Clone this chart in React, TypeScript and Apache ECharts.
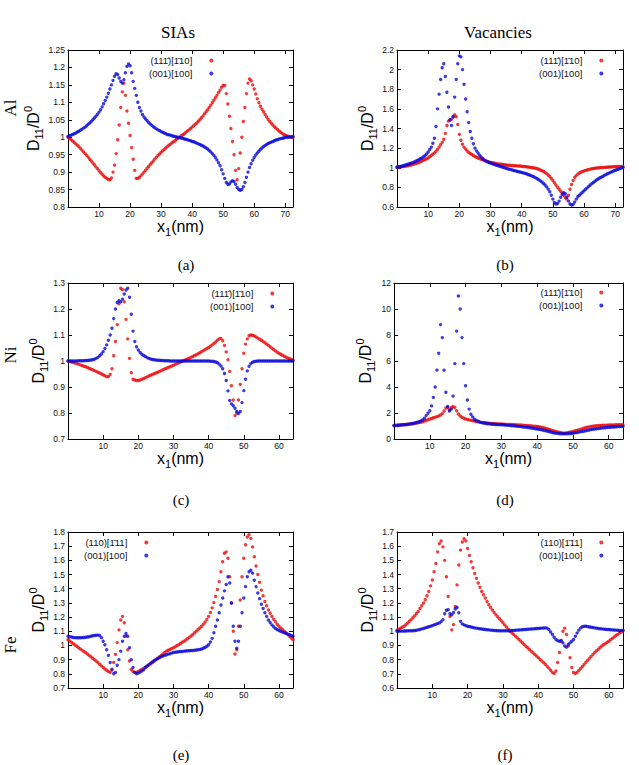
import React, { useEffect, useRef } from "react";
import * as echarts from "echarts";

// sampling step of every series along x1 (nm)
const X_STEP = 0.5;

const NAME_111 = "(11" + "1\u0304" + ")[" + "1\u0304" + "10]";
const NAME_FE110 = "(110)[" + "1\u0304" + "11]";
const NAME_001 = "(001)[100]";

const COLUMN_TITLES = ["SIAs", "Vacancies"];
const ROW_LABELS = ["Al", "Ni", "Fe"];
const CAPTIONS = ["(a)", "(b)", "(c)", "(d)", "(e)", "(f)"];

// ---------- Al, SIAs (x1 = 0 .. 72.5) ----------
const AL_SIA_RED = [
  1.000, 0.996, 0.993, 0.989, 0.985, 0.981, 0.977, 0.973, 0.968, 0.963,
  0.958, 0.953, 0.948, 0.943, 0.937, 0.932, 0.926, 0.921, 0.915, 0.910,
  0.904, 0.899, 0.894, 0.889, 0.885, 0.882, 0.879, 0.878, 0.883, 0.900,
  0.920, 0.953, 0.993, 1.035, 1.085, 1.130, 1.155, 1.120, 1.075, 1.040,
  1.005, 0.970, 0.937, 0.905, 0.882, 0.882, 0.885, 0.890, 0.895, 0.900,
  0.905, 0.911, 0.916, 0.922, 0.927, 0.932, 0.938, 0.943, 0.948, 0.952,
  0.957, 0.961, 0.965, 0.969, 0.973, 0.977, 0.980, 0.984, 0.987, 0.990,
  0.994, 0.997, 1.000, 1.004, 1.007, 1.010, 1.014, 1.018, 1.021, 1.025,
  1.029, 1.033, 1.037, 1.041, 1.046, 1.051, 1.056, 1.061, 1.067, 1.073,
  1.079, 1.085, 1.092, 1.099, 1.106, 1.113, 1.120, 1.128, 1.135, 1.143,
  1.148, 1.148, 1.125, 1.095, 1.060, 1.025, 0.988, 0.950, 0.905, 0.878,
  0.910, 0.955, 1.000, 1.045, 1.085, 1.125, 1.155, 1.167, 1.162, 1.150,
  1.138, 1.124, 1.110, 1.099, 1.089, 1.080, 1.073, 1.065, 1.058, 1.051,
  1.045, 1.040, 1.035, 1.030, 1.026, 1.022, 1.018, 1.014, 1.011, 1.008,
  1.006, 1.004, 1.002, 1.001, 1.000, 0.999,
];
const AL_SIA_BLUE = [
  1.002, 1.004, 1.006, 1.008, 1.010, 1.012, 1.015, 1.017, 1.020, 1.023,
  1.026, 1.029, 1.033, 1.037, 1.041, 1.045, 1.050, 1.055, 1.060, 1.066,
  1.072, 1.079, 1.087, 1.096, 1.105, 1.115, 1.126, 1.138, 1.150, 1.163,
  1.175, 1.182, 1.180, 1.170, 1.160, 1.155, 1.165, 1.185, 1.203, 1.210,
  1.205, 1.185, 1.160, 1.140, 1.120, 1.100, 1.085, 1.075, 1.065, 1.058,
  1.052, 1.047, 1.042, 1.038, 1.034, 1.030, 1.027, 1.024, 1.021, 1.019,
  1.016, 1.014, 1.012, 1.010, 1.008, 1.007, 1.006, 1.004, 1.003, 1.002,
  1.001, 1.000, 0.999, 0.998, 0.997, 0.995, 0.994, 0.993, 0.991, 0.990,
  0.988, 0.987, 0.985, 0.983, 0.981, 0.979, 0.977, 0.975, 0.972, 0.969,
  0.966, 0.962, 0.958, 0.953, 0.948, 0.942, 0.935, 0.927, 0.918, 0.907,
  0.895, 0.882, 0.870, 0.865, 0.866, 0.872, 0.875, 0.873, 0.865, 0.856,
  0.850, 0.848, 0.850, 0.858, 0.870, 0.885, 0.900, 0.913, 0.924, 0.934,
  0.942, 0.949, 0.955, 0.960, 0.965, 0.969, 0.973, 0.976, 0.979, 0.982,
  0.984, 0.986, 0.988, 0.990, 0.992, 0.993, 0.995, 0.996, 0.997, 0.998,
  0.999, 1.000, 1.000, 1.001, 1.001, 1.002,
];

// ---------- Al, vacancies (x1 = 0 .. 72.5) ----------
const AL_VAC_RED = [
  1.005, 1.006, 1.008, 1.010, 1.012, 1.014, 1.017, 1.020, 1.024, 1.028,
  1.032, 1.037, 1.042, 1.048, 1.054, 1.061, 1.068, 1.076, 1.084, 1.092,
  1.100, 1.112, 1.125, 1.137, 1.150, 1.167, 1.185, 1.210, 1.235, 1.260,
  1.290, 1.350, 1.430, 1.475, 1.485, 1.495, 1.520, 1.540, 1.520, 1.440,
  1.340, 1.280, 1.240, 1.210, 1.190, 1.170, 1.155, 1.145, 1.135, 1.125,
  1.115, 1.107, 1.100, 1.093, 1.087, 1.081, 1.075, 1.069, 1.064, 1.059,
  1.055, 1.051, 1.048, 1.045, 1.042, 1.039, 1.037, 1.035, 1.033, 1.030,
  1.028, 1.026, 1.025, 1.023, 1.022, 1.021, 1.020, 1.019, 1.018, 1.017,
  1.015, 1.013, 1.012, 1.010, 1.008, 1.006, 1.003, 1.000, 0.997, 0.994,
  0.990, 0.984, 0.978, 0.970, 0.962, 0.951, 0.940, 0.926, 0.910, 0.891,
  0.870, 0.848, 0.825, 0.802, 0.780, 0.760, 0.742, 0.720, 0.695, 0.680,
  0.720, 0.780, 0.830, 0.870, 0.900, 0.920, 0.935, 0.946, 0.955, 0.962,
  0.968, 0.973, 0.978, 0.982, 0.986, 0.989, 0.992, 0.995, 0.997, 0.999,
  1.000, 1.002, 1.003, 1.004, 1.005, 1.006, 1.007, 1.008, 1.009, 1.010,
  1.011, 1.012, 1.012, 1.013, 1.013, 1.014,
];
const AL_VAC_BLUE = [
  1.005, 1.008, 1.012, 1.016, 1.020, 1.025, 1.030, 1.035, 1.040, 1.046,
  1.052, 1.059, 1.066, 1.074, 1.082, 1.091, 1.100, 1.112, 1.125, 1.140,
  1.160, 1.185, 1.210, 1.250, 1.300, 1.420, 1.600, 1.750, 1.900, 2.020,
  2.060, 1.930, 1.770, 1.620, 1.490, 1.430, 1.520, 1.720, 1.900, 2.060,
  2.140, 2.130, 2.000, 1.850, 1.700, 1.570, 1.460, 1.370, 1.300, 1.245,
  1.200, 1.172, 1.150, 1.128, 1.110, 1.094, 1.080, 1.070, 1.062, 1.055,
  1.048, 1.042, 1.036, 1.030, 1.025, 1.020, 1.015, 1.010, 1.005, 1.000,
  0.995, 0.990, 0.985, 0.981, 0.977, 0.972, 0.968, 0.964, 0.960, 0.956,
  0.952, 0.948, 0.943, 0.938, 0.932, 0.926, 0.920, 0.913, 0.905, 0.897,
  0.888, 0.878, 0.866, 0.854, 0.840, 0.824, 0.805, 0.782, 0.755, 0.720,
  0.680, 0.645, 0.630, 0.635, 0.660, 0.700, 0.730, 0.745, 0.735, 0.700,
  0.660, 0.630, 0.620, 0.625, 0.650, 0.680, 0.705, 0.720, 0.735, 0.750,
  0.765, 0.780, 0.795, 0.810, 0.825, 0.838, 0.850, 0.863, 0.875, 0.885,
  0.895, 0.904, 0.912, 0.921, 0.930, 0.938, 0.945, 0.953, 0.960, 0.966,
  0.973, 0.979, 0.985, 0.991, 0.997, 1.003,
];

// ---------- Ni, SIAs (x1 = 0 .. 64) ----------
const NI_SIA_RED = [
  1.000, 0.998, 0.996, 0.994, 0.992, 0.990, 0.988, 0.985, 0.983, 0.980,
  0.978, 0.975, 0.972, 0.969, 0.966, 0.963, 0.960, 0.957, 0.954, 0.950,
  0.947, 0.943, 0.940, 0.940, 0.948, 0.970, 1.020, 1.075, 1.140, 1.220,
  1.280, 1.275, 1.228, 1.160, 1.085, 1.010, 0.955, 0.930, 0.927, 0.925,
  0.925, 0.927, 0.930, 0.933, 0.936, 0.939, 0.942, 0.945, 0.948, 0.951,
  0.954, 0.957, 0.960, 0.963, 0.966, 0.969, 0.972, 0.975, 0.978, 0.981,
  0.984, 0.987, 0.990, 0.993, 0.996, 0.999, 1.002, 1.005, 1.008, 1.011,
  1.014, 1.017, 1.021, 1.024, 1.028, 1.032, 1.036, 1.040, 1.044, 1.048,
  1.052, 1.057, 1.062, 1.067, 1.073, 1.080, 1.085, 1.087, 1.078, 1.060,
  1.035, 1.005, 0.960, 0.905, 0.850, 0.790, 0.800, 0.850, 0.910, 0.970,
  1.030, 1.065, 1.085, 1.097, 1.100, 1.099, 1.096, 1.092, 1.088, 1.084,
  1.080, 1.075, 1.070, 1.065, 1.060, 1.055, 1.049, 1.044, 1.039, 1.034,
  1.030, 1.026, 1.022, 1.018, 1.015, 1.012, 1.009, 1.006, 1.004,
];
const NI_SIA_BLUE = [
  1.000, 1.000, 1.000, 1.000, 1.000, 1.000, 1.001, 1.001, 1.001, 1.001,
  1.002, 1.002, 1.003, 1.004, 1.005, 1.007, 1.010, 1.014, 1.020, 1.027,
  1.036, 1.048, 1.062, 1.080, 1.100, 1.126, 1.163, 1.200, 1.225, 1.232,
  1.228, 1.238, 1.258, 1.273, 1.280, 1.245, 1.180, 1.115, 1.075, 1.055,
  1.042, 1.033, 1.026, 1.021, 1.017, 1.013, 1.010, 1.008, 1.006, 1.005,
  1.004, 1.003, 1.003, 1.002, 1.002, 1.001, 1.001, 1.001, 1.000, 1.000,
  1.000, 1.000, 1.000, 1.000, 1.000, 1.000, 1.000, 1.000, 1.000, 1.000,
  1.000, 1.000, 1.000, 1.000, 1.000, 1.000, 1.000, 1.000, 1.000, 1.000,
  1.000, 0.999, 0.999, 0.998, 0.996, 0.993, 0.988, 0.981, 0.970, 0.952,
  0.925, 0.885, 0.848, 0.835, 0.828, 0.818, 0.806, 0.798, 0.806, 0.840,
  0.886, 0.930, 0.962, 0.980, 0.990, 0.995, 0.998, 0.999, 1.000, 1.000,
  1.000, 1.000, 1.000, 1.000, 1.000, 1.000, 1.000, 1.000, 1.000, 1.000,
  1.000, 1.000, 1.000, 1.000, 1.000, 1.000, 1.000, 1.000, 1.000,
];

// ---------- Ni, vacancies (x1 = 0 .. 64) ----------
const NI_VAC_RED = [
  1.05, 1.06, 1.07, 1.08, 1.09, 1.10, 1.11, 1.12, 1.13, 1.145,
  1.16, 1.18, 1.20, 1.23, 1.26, 1.29, 1.33, 1.38, 1.43, 1.48,
  1.54, 1.58, 1.63, 1.67, 1.72, 1.77, 1.84, 1.95, 2.15, 2.38,
  2.43, 2.25, 2.40, 2.50, 2.42, 2.18, 1.92, 1.77, 1.67, 1.60,
  1.54, 1.50, 1.47, 1.44, 1.41, 1.38, 1.35, 1.33, 1.30, 1.28,
  1.26, 1.245, 1.23, 1.215, 1.20, 1.19, 1.18, 1.17, 1.16, 1.155,
  1.15, 1.14, 1.13, 1.125, 1.12, 1.115, 1.11, 1.10, 1.09, 1.085,
  1.08, 1.07, 1.06, 1.05, 1.04, 1.03, 1.02, 1.005, 0.99, 0.975,
  0.96, 0.94, 0.91, 0.88, 0.84, 0.81, 0.77, 0.73, 0.68, 0.64,
  0.60, 0.565, 0.53, 0.50, 0.47, 0.45, 0.46, 0.49, 0.52, 0.55,
  0.58, 0.62, 0.66, 0.70, 0.74, 0.78, 0.82, 0.86, 0.90, 0.93,
  0.96, 0.98, 1.00, 1.015, 1.03, 1.04, 1.05, 1.055, 1.06, 1.065,
  1.07, 1.075, 1.08, 1.085, 1.09, 1.095, 1.10, 1.10, 1.10,
];
const NI_VAC_BLUE = [
  1.02, 1.03, 1.04, 1.055, 1.07, 1.085, 1.10, 1.12, 1.14, 1.165,
  1.19, 1.22, 1.25, 1.29, 1.33, 1.39, 1.46, 1.60, 1.80, 1.98,
  2.18, 2.55, 3.20, 4.00, 5.30, 6.60, 8.80, 7.80, 5.30, 3.60,
  2.50, 2.15, 2.30, 3.30, 5.80, 8.30, 11.00, 10.00, 7.80, 5.80,
  4.10, 3.00, 2.30, 1.90, 1.70, 1.52, 1.42, 1.36, 1.30, 1.26,
  1.23, 1.205, 1.18, 1.165, 1.15, 1.14, 1.13, 1.12, 1.11, 1.105,
  1.10, 1.09, 1.08, 1.065, 1.05, 1.035, 1.02, 1.01, 1.00, 0.985,
  0.97, 0.95, 0.93, 0.915, 0.90, 0.88, 0.86, 0.84, 0.82, 0.795,
  0.77, 0.745, 0.72, 0.69, 0.66, 0.63, 0.60, 0.56, 0.52, 0.485,
  0.45, 0.435, 0.42, 0.41, 0.40, 0.40, 0.40, 0.41, 0.42, 0.43,
  0.44, 0.47, 0.50, 0.525, 0.55, 0.575, 0.60, 0.63, 0.66, 0.69,
  0.72, 0.745, 0.77, 0.785, 0.80, 0.82, 0.84, 0.855, 0.87, 0.885,
  0.90, 0.91, 0.92, 0.93, 0.94, 0.95, 0.96, 0.965, 0.97,
];

// ---------- Fe, SIAs (x1 = 0 .. 64) ----------
const FE_SIA_RED = [
  1.040, 1.031, 1.021, 1.012, 1.003, 0.994, 0.984, 0.976, 0.967, 0.958,
  0.950, 0.940, 0.930, 0.920, 0.910, 0.900, 0.891, 0.880, 0.868, 0.856,
  0.844, 0.834, 0.825, 0.816, 0.810, 0.826, 0.880, 0.937, 1.020, 1.110,
  1.180, 1.205, 1.160, 1.066, 0.970, 0.890, 0.830, 0.817, 0.810, 0.810,
  0.817, 0.823, 0.830, 0.837, 0.844, 0.853, 0.862, 0.871, 0.880, 0.890,
  0.900, 0.910, 0.920, 0.930, 0.940, 0.950, 0.960, 0.966, 0.972, 0.978,
  0.984, 0.991, 0.999, 1.006, 1.014, 1.022, 1.030, 1.039, 1.048, 1.057,
  1.066, 1.077, 1.090, 1.101, 1.112, 1.123, 1.135, 1.150, 1.166, 1.184,
  1.205, 1.233, 1.265, 1.302, 1.346, 1.395, 1.450, 1.520, 1.590, 1.650,
  1.660, 1.615, 1.485, 1.300, 1.100, 0.940, 0.970, 1.135, 1.320, 1.485,
  1.615, 1.710, 1.765, 1.780, 1.755, 1.695, 1.625, 1.560, 1.500, 1.445,
  1.390, 1.350, 1.310, 1.280, 1.250, 1.227, 1.205, 1.185, 1.168, 1.150,
  1.135, 1.123, 1.112, 1.101, 1.090, 1.077, 1.065, 1.052, 1.040,
];
const FE_SIA_BLUE = [
  1.065, 1.062, 1.059, 1.056, 1.055, 1.054, 1.054, 1.054, 1.055, 1.056,
  1.058, 1.060, 1.062, 1.065, 1.068, 1.070, 1.072, 1.073, 1.070, 1.055,
  1.030, 1.005, 0.970, 0.930, 0.880, 0.833, 0.800, 0.810, 0.860, 0.900,
  0.960, 1.030, 1.065, 1.085, 1.065, 0.984, 0.900, 0.844, 0.810, 0.800,
  0.805, 0.812, 0.820, 0.828, 0.845, 0.855, 0.865, 0.875, 0.884, 0.892,
  0.900, 0.907, 0.914, 0.920, 0.925, 0.930, 0.935, 0.939, 0.942, 0.946,
  0.950, 0.952, 0.954, 0.956, 0.957, 0.958, 0.960, 0.961, 0.962, 0.963,
  0.964, 0.965, 0.966, 0.968, 0.970, 0.972, 0.975, 0.980, 0.986, 0.994,
  1.005, 1.025, 1.050, 1.090, 1.135, 1.180, 1.230, 1.285, 1.335, 1.385,
  1.430, 1.485, 1.440, 1.300, 1.135, 1.030, 0.980, 1.030, 1.135, 1.230,
  1.335, 1.415, 1.485, 1.520, 1.530, 1.510, 1.460, 1.415, 1.370, 1.330,
  1.290, 1.260, 1.230, 1.205, 1.180, 1.162, 1.145, 1.132, 1.120, 1.112,
  1.105, 1.100, 1.095, 1.090, 1.085, 1.080, 1.075, 1.070, 1.065,
];

// ---------- Fe, vacancies (x1 = 0 .. 64) ----------
const FE_VAC_RED = [
  1.007, 1.014, 1.021, 1.028, 1.035, 1.046, 1.058, 1.070, 1.082, 1.096,
  1.110, 1.125, 1.140, 1.160, 1.180, 1.200, 1.222, 1.250, 1.280, 1.320,
  1.362, 1.420, 1.478, 1.560, 1.618, 1.637, 1.595, 1.500, 1.385, 1.245,
  1.105, 1.010, 1.047, 1.175, 1.327, 1.467, 1.572, 1.630, 1.653, 1.637,
  1.583, 1.535, 1.490, 1.448, 1.408, 1.373, 1.340, 1.310, 1.280, 1.257,
  1.234, 1.210, 1.187, 1.168, 1.150, 1.133, 1.117, 1.102, 1.088, 1.074,
  1.060, 1.045, 1.030, 1.015, 1.000, 0.989, 0.978, 0.966, 0.955, 0.943,
  0.931, 0.919, 0.907, 0.895, 0.884, 0.872, 0.860, 0.849, 0.837, 0.826,
  0.814, 0.802, 0.790, 0.779, 0.767, 0.754, 0.740, 0.725, 0.710, 0.702,
  0.720, 0.780, 0.850, 0.930, 1.000, 1.022, 0.977, 0.896, 0.814, 0.744,
  0.710, 0.702, 0.710, 0.723, 0.737, 0.752, 0.766, 0.781, 0.795, 0.809,
  0.823, 0.837, 0.850, 0.862, 0.873, 0.885, 0.896, 0.905, 0.913, 0.922,
  0.930, 0.940, 0.950, 0.960, 0.970, 0.978, 0.987, 0.995, 1.003,
];
const FE_VAC_BLUE = [
  1.000, 1.000, 1.001, 1.001, 1.002, 1.002, 1.003, 1.003, 1.004, 1.004,
  1.005, 1.007, 1.010, 1.013, 1.017, 1.020, 1.024, 1.028, 1.032, 1.036,
  1.040, 1.045, 1.049, 1.054, 1.059, 1.068, 1.082, 1.124, 1.148, 1.152,
  1.124, 1.117, 1.133, 1.157, 1.168, 1.130, 1.070, 1.052, 1.045, 1.040,
  1.036, 1.033, 1.030, 1.027, 1.024, 1.022, 1.020, 1.018, 1.016, 1.014,
  1.012, 1.011, 1.010, 1.008, 1.007, 1.006, 1.005, 1.004, 1.004, 1.003,
  1.003, 1.003, 1.003, 1.004, 1.004, 1.005, 1.006, 1.007, 1.008, 1.009,
  1.010, 1.011, 1.012, 1.013, 1.014, 1.015, 1.016, 1.017, 1.018, 1.019,
  1.020, 1.021, 1.022, 1.023, 1.024, 1.022, 1.012, 0.995, 0.977, 0.958,
  0.942, 0.934, 0.930, 0.935, 0.918, 0.896, 0.888, 0.907, 0.918, 0.930,
  0.942, 0.965, 0.988, 1.008, 1.024, 1.032, 1.036, 1.035, 1.033, 1.030,
  1.028, 1.026, 1.024, 1.022, 1.020, 1.018, 1.017, 1.015, 1.014, 1.013,
  1.012, 1.011, 1.010, 1.009, 1.008, 1.007, 1.006, 1.005, 1.005,
];

const SANS = "'Liberation Sans', Arial, Helvetica, sans-serif";
const SERIF = "'Liberation Serif', 'Times New Roman', serif";
const RED = "#ee0a0a";
const BLUE = "#0a0adc";
const INK = "#111";

const PANELS = [
  { red: AL_SIA_RED, blue: AL_SIA_BLUE, redName: NAME_111, xMax: 72.5, yMin: 0.8, yMax: 1.25, yStep: 0.05,
    grid: { left: 68, top: 50, width: 225, height: 157 }, legend: { left: 149, top: 55 } },
  { red: AL_VAC_RED, blue: AL_VAC_BLUE, redName: NAME_111, xMax: 72.5, yMin: 0.6, yMax: 2.2, yStep: 0.2,
    grid: { left: 397, top: 50, width: 226, height: 157 }, legend: { left: 539, top: 55 } },
  { red: NI_SIA_RED, blue: NI_SIA_BLUE, redName: NAME_111, xMax: 64, yMin: 0.7, yMax: 1.3, yStep: 0.1,
    grid: { left: 68, top: 283, width: 225, height: 156 }, legend: { left: 210, top: 288 } },
  { red: NI_VAC_RED, blue: NI_VAC_BLUE, redName: NAME_111, xMax: 64, yMin: 0, yMax: 12, yStep: 2,
    grid: { left: 394, top: 283, width: 229, height: 156 }, legend: { left: 539, top: 287 } },
  { red: FE_SIA_RED, blue: FE_SIA_BLUE, redName: NAME_FE110, xMax: 64, yMin: 0.7, yMax: 1.8, yStep: 0.1,
    grid: { left: 68, top: 532, width: 225, height: 156 }, legend: { left: 84, top: 537 } },
  { red: FE_VAC_RED, blue: FE_VAC_BLUE, redName: NAME_FE110, xMax: 64, yMin: 0.6, yMax: 1.7, yStep: 0.1,
    grid: { left: 397, top: 532, width: 226, height: 156 }, legend: { left: 539, top: 537 } },
];

const fmt = (v: number) => String(parseFloat(Number(v).toFixed(3)));

const nameRich = {
  m: { fontSize: 16, fontFamily: SANS, color: "#000", lineHeight: 22, verticalAlign: "middle" },
  s: { fontSize: 11, fontFamily: SANS, color: "#000", lineHeight: 11, verticalAlign: "bottom" },
  p: { fontSize: 11, fontFamily: SANS, color: "#000", lineHeight: 11, verticalAlign: "top" },
};

function buildOption() {
  const grid: any[] = [];
  const xAxis: any[] = [];
  const yAxis: any[] = [];
  const series: any[] = [];
  const legend: any[] = [];
  const axisLine = { show: true, onZero: false, lineStyle: { color: "#000", width: 1 } };
  const axisTick = { show: true, inside: true, length: 4, lineStyle: { color: "#000", width: 1 } };
  const tickLabel = { fontSize: 8.5, fontFamily: SANS, color: INK, formatter: fmt };

  PANELS.forEach((p, i) => {
    grid.push({ ...p.grid, containLabel: false, outerBoundsMode: "none" });
    xAxis.push({
      type: "value", gridIndex: i, position: "bottom", min: 0, max: p.xMax, interval: 10,
      axisLine, axisTick, splitLine: { show: false },
      axisLabel: { ...tickLabel, margin: 2, showMinLabel: false, showMaxLabel: false },
      name: "{m|x}{s|1}{m|(nm)}", nameLocation: "middle", nameGap: 5,
      nameTextStyle: { rich: nameRich },
    });
    xAxis.push({
      type: "value", gridIndex: i, position: "top", min: 0, max: p.xMax, interval: 10,
      axisLine, axisTick, splitLine: { show: false }, axisLabel: { show: false },
    });
    yAxis.push({
      type: "value", gridIndex: i, position: "left", min: p.yMin, max: p.yMax, interval: p.yStep,
      axisLine, axisTick, splitLine: { show: false },
      axisLabel: { ...tickLabel, margin: 3 },
      name: "{m|D}{s|11}{m|/D}{p|0}", nameLocation: "middle", nameRotate: 90, nameGap: 18,
      nameTextStyle: { rich: nameRich },
    });
    yAxis.push({
      type: "value", gridIndex: i, position: "right", min: p.yMin, max: p.yMax, interval: p.yStep,
      axisLine, axisTick, splitLine: { show: false }, axisLabel: { show: false },
    });
    series.push({
      type: "scatter", name: p.redName, xAxisIndex: 2 * i, yAxisIndex: 2 * i,
      data: p.red.map((y, k) => [k * X_STEP, y]),
      symbol: "circle", symbolSize: 3.4, itemStyle: { color: RED }, silent: true,
    });
    series.push({
      type: "scatter", name: NAME_001, xAxisIndex: 2 * i, yAxisIndex: 2 * i,
      data: p.blue.map((y, k) => [k * X_STEP, y]),
      symbol: "circle", symbolSize: 3.4, itemStyle: { color: BLUE }, silent: true,
    });
    legend.push({
      data: [p.redName, NAME_001], left: p.legend.left, top: p.legend.top,
      orient: "vertical", align: "right", icon: "circle", itemWidth: 4, itemHeight: 4,
      itemGap: 2, padding: 0, selectedMode: false,
      textStyle: { fontSize: 9.5, fontFamily: SANS, color: INK, lineHeight: 11, padding: [0, 12, 0, 0] },
    });
  });

  const txt = (text: string, x: number, y: number, size: number, rotation = 0) => ({
    type: "text", x, y, rotation, silent: true,
    style: { text, fontSize: size, fontFamily: SERIF, fill: "#000", align: "center", verticalAlign: "middle" },
  });

  const graphic = [
    txt(COLUMN_TITLES[0], 178, 32, 17),
    txt(COLUMN_TITLES[1], 498, 32, 17),
    txt(ROW_LABELS[0], 10, 108, 17, Math.PI / 2),
    txt(ROW_LABELS[1], 10, 355, 17, Math.PI / 2),
    txt(ROW_LABELS[2], 10, 645, 17, Math.PI / 2),
    txt(CAPTIONS[0], 186, 265, 15),
    txt(CAPTIONS[1], 505, 265, 15),
    txt(CAPTIONS[2], 181, 500, 15),
    txt(CAPTIONS[3], 505, 500, 15),
    txt(CAPTIONS[4], 181, 755, 15),
    txt(CAPTIONS[5], 505, 755, 15),
  ];

  return { animation: false, backgroundColor: "#fff", grid, xAxis, yAxis, series, legend, graphic };
}

export default function App() {
  const ref = useRef<HTMLDivElement>(null);
  useEffect(() => {
    if (!ref.current) return;
    const chart = echarts.init(ref.current, null, { renderer: "svg" });
    chart.setOption(buildOption() as any);
    return () => chart.dispose();
  }, []);
  return (
    <div
      ref={ref}
      style={{ position: "fixed", left: 0, top: 0, width: 639, height: 765, background: "#fff" }}
    />
  );
}
